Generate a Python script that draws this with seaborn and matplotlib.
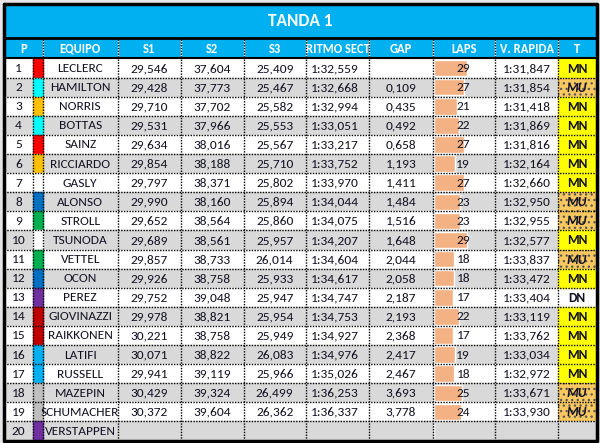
import numpy as np
import pandas as pd
import seaborn as sns
import matplotlib.pyplot as plt
from matplotlib.patches import Rectangle

# ---------------------- Data ----------------------------------------------------------

title = "TANDA 1"
headers = ["P", "EQUIPO", "S1", "S2", "S3", "RITMO SECT", "GAP", "LAPS", "V. RAPIDA", "T"]

positions = list(range(1, 21))
drivers = ["LECLERC", "HAMILTON", "NORRIS", "BOTTAS", "SAINZ", "RICCIARDO", "GASLY", "ALONSO",
           "STROLL", "TSUNODA", "VETTEL", "OCON", "PEREZ", "GIOVINAZZI", "RAIKKONEN", "LATIFI",
           "RUSSELL", "MAZEPIN", "SCHUMACHER", "VERSTAPPEN"]
team_colors = ["#ff0000", "#00ffff", "#ffc000", "#00ffff", "#ff0000", "#ffc000", "#ffffff", "#0070c0",
               "#00b050", "#ffffff", "#00b050", "#0070c0", "#7030a0", "#c00000", "#c00000", "#00b0f0",
               "#00b0f0", "#bfbfbf", "#bfbfbf", "#7030a0"]
s1 = ["29,546", "29,428", "29,710", "29,531", "29,634", "29,854", "29,797", "29,990", "29,652", "29,689",
      "29,857", "29,926", "29,752", "29,978", "30,221", "30,071", "29,941", "30,429", "30,372", ""]
s2 = ["37,604", "37,773", "37,702", "37,966", "38,016", "38,188", "38,371", "38,160", "38,564", "38,561",
      "38,733", "38,758", "39,048", "38,821", "38,758", "38,822", "39,119", "39,324", "39,604", ""]
s3 = ["25,409", "25,467", "25,582", "25,553", "25,567", "25,710", "25,802", "25,894", "25,860", "25,957",
      "26,014", "25,933", "25,947", "25,954", "25,949", "26,083", "25,966", "26,499", "26,362", ""]
ritmo = ["1:32,559", "1:32,668", "1:32,994", "1:33,051", "1:33,217", "1:33,752", "1:33,970", "1:34,044",
         "1:34,075", "1:34,207", "1:34,604", "1:34,617", "1:34,747", "1:34,753", "1:34,927", "1:34,976",
         "1:35,026", "1:36,253", "1:36,337", ""]
gap = ["", "0,109", "0,435", "0,492", "0,658", "1,193", "1,411", "1,484", "1,516", "1,648",
       "2,044", "2,058", "2,187", "2,193", "2,368", "2,417", "2,467", "3,693", "3,778", ""]
laps = [29, 27, 21, 22, 27, 19, 27, 23, 23, 29, 18, 18, 17, 22, 17, 19, 18, 25, 24, 0]
vrapida = ["1:31,847", "1:31,854", "1:31,418", "1:31,869", "1:31,816", "1:32,164", "1:32,660", "1:32,950",
           "1:32,955", "1:32,577", "1:33,837", "1:33,472", "1:33,404", "1:33,119", "1:33,762", "1:33,034",
           "1:32,972", "1:33,671", "1:33,930", ""]
tyre = ["MN", "MU", "MN", "MN", "MN", "MN", "MN", "MU", "MU", "MN",
        "MU", "MN", "DN", "MN", "MN", "MN", "MN", "MU", "MU", ""]

df = pd.DataFrame({"P": positions, "EQUIPO": drivers, "S1": s1, "S2": s2, "S3": s3,
                   "RITMO": ritmo, "GAP": gap, "LAPS": laps, "VR": vrapida, "T": tyre})

# ---------------------- Layout (pixel grid) ---------------------------------------------

sns.set_theme(style="white")
plt.rcParams['font.family'] = ['Carlito', 'Lato', 'DejaVu Sans']
plt.rcParams['hatch.linewidth'] = 0.9

edges = [4, 33, 43, 117.5, 180.5, 243.5, 306, 369, 433, 495, 558, 596]
top0, rh = 58.5, 19.1
txt = "#111122"
blue = "#00b0f0"
fs = 9.6

fig = plt.figure(figsize=(6, 4.43), dpi=100, facecolor="#e6e6e6")
ax = fig.add_axes([0, 0, 1, 1])
ax.set_xlim(0, 600)
ax.set_ylim(443, 0)
ax.axis("off")

# title + header
ax.add_patch(Rectangle((4, 4), 592, 54.5, color=blue, zorder=1))
ax.text(300, 21, title, ha="center", va="center", color="white", fontsize=12.5, fontweight="bold")
head_cols = [(edges[0], edges[2])] + [(edges[i], edges[i + 1]) for i in range(2, 11)]
for (a, b), h in zip(head_cols, headers):
    ax.text((a + b) / 2, 48.5, h, ha="center", va="center", color="white", fontsize=9, fontweight="bold")
for (a, b) in head_cols[1:]:
    ax.plot([a, a], [39, 58], color="white", lw=1, zorder=3)
    ax.plot([a, a], [39, 58], color="black", lw=1, ls=(0, (1, 1)), zorder=4)

# rows background
for i, row in df.iterrows():
    y = top0 + i * rh
    bg = "white" if i % 2 == 0 else "#d9d9d9"
    ax.add_patch(Rectangle((4, y), 592, rh, color=bg, zorder=1))
    ax.add_patch(Rectangle((edges[1], y), edges[2] - edges[1], rh, color=team_colors[i], zorder=2))

    if row["T"] == "MN":
        ax.add_patch(Rectangle((edges[10], y), edges[11] - edges[10], rh, color="#ffff00", zorder=2))
    elif row["T"] == "MU":
        ax.add_patch(Rectangle((edges[10], y), edges[11] - edges[10], rh, facecolor="#f9c85e",
                               edgecolor="#555555", hatch="...", lw=0, zorder=2))

# LAPS data bars
bar_y = [top0 + i * rh + rh / 2 for i in range(len(df))]
ax.barh(bar_y, df["LAPS"] * 1.14, left=edges[8] + 0.5, height=rh - 2.6, color="#f4b183", zorder=2)

for i, row in df.iterrows():
    yc = top0 + i * rh + rh / 2 + 0.5
    ax.text((edges[0] + edges[1]) / 2, yc, str(row["P"]), ha="center", va="center", color=txt, fontsize=fs)
    ax.text((edges[2] + edges[3]) / 2, yc, row["EQUIPO"], ha="center", va="center", color=txt, fontsize=fs)
    for j, key in enumerate(["S1", "S2", "S3"]):
        ax.text((edges[3 + j] + edges[4 + j]) / 2, yc, row[key], ha="center", va="center", color=txt, fontsize=fs)
    ax.text(335, yc, row["RITMO"], ha="center", va="center", color=txt, fontsize=fs)
    ax.text((edges[7] + edges[8]) / 2, yc, row["GAP"], ha="center", va="center", color=txt, fontsize=fs)
    if row["LAPS"] > 0:
        ax.text(470, yc, str(row["LAPS"]), ha="right", va="center", color=txt, fontsize=fs)
    ax.text((edges[9] + edges[10]) / 2, yc, row["VR"], ha="center", va="center", color=txt, fontsize=fs)
    if row["T"]:
        style = "italic" if row["T"] == "MU" else "normal"
        ax.text((edges[10] + edges[11]) / 2, yc, row["T"], ha="center", va="center", color=txt,
                fontsize=fs, fontweight="bold", fontstyle=style, zorder=5)

# dotted grid
bottom = top0 + len(df) * rh
for k in range(1, len(df)):
    y = top0 + k * rh
    ax.plot([4, 596], [y, y], color="black", lw=1, ls=(0, (1, 1)), zorder=4)
for x in [edges[1]] + edges[2:11]:
    ax.plot([x, x], [top0, bottom], color="black", lw=1, ls=(0, (1, 1)), zorder=4)

# thick borders
ax.plot([3.5, 596.5, 596.5, 3.5, 3.5], [3.5, 3.5, bottom, bottom, 3.5], color="black", lw=2.5, zorder=6)
ax.plot([4, 596], [38.3, 38.3], color="black", lw=2, zorder=6)
ax.plot([4, 596], [58.3, 58.3], color="black", lw=1.5, zorder=6)

fig.savefig("out.png", dpi=100, facecolor=fig.get_facecolor())
